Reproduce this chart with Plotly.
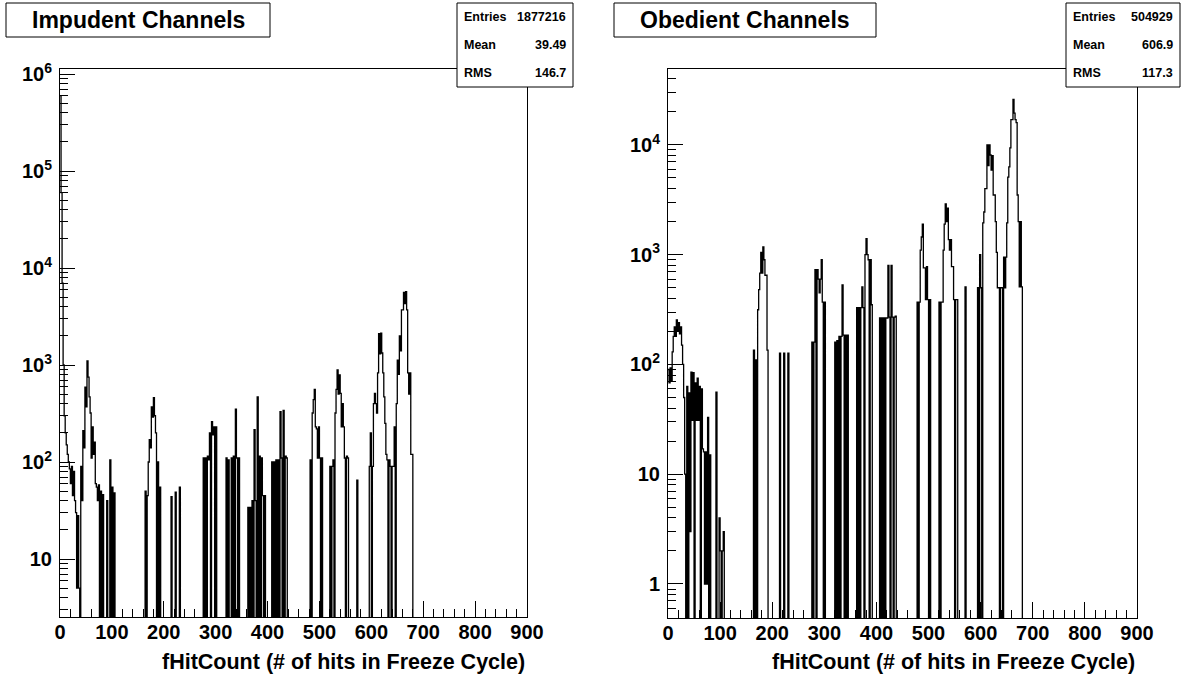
import plotly.graph_objects as go

W, H = 1189, 676

# ---- histogram contents (bin width 2, lower bin edge -> entries; other bins are empty)
imp_bin = [0, 2, 4, 6, 8, 10, 12, 14, 16, 18, 20, 22, 24, 26, 28, 30, 32, 34, 36,
           40, 42, 44, 46, 48, 50, 52, 54, 56, 58, 60, 62, 64, 66, 68, 70, 72, 74, 78, 82, 90, 96, 100, 104,
           164, 168, 170, 172, 174, 176, 178, 180, 182, 184, 188, 192,
           214, 222, 230,
           276, 280, 284, 286, 288, 292, 294, 296, 300,
           320, 324, 330, 334, 338, 340, 344,
           362, 366, 370, 374, 376, 380, 384, 388, 390, 394,
           408, 412, 416, 420, 424, 426, 430, 434, 436,
           482, 486, 488, 490, 492, 494, 496, 498, 500, 504,
           520, 524, 526, 530, 532, 534, 536, 538, 540, 542, 544, 546, 548, 552, 554,
           572,
           596, 598, 602, 604, 606, 608, 610, 612, 614, 616, 618, 620, 622, 624, 626, 628, 630, 634, 636,
           640, 642, 644, 648, 650, 652, 654, 656, 658, 660, 662, 664, 666, 668, 670, 672, 674, 676, 678]
imp_cnt = [600000, 60000, 7000, 1000, 300, 200, 150, 120, 100, 85, 60, 90, 45, 80, 40, 30, 5, 28, 5,
           90, 40, 210, 140, 590, 370, 1100, 750, 470, 320, 110, 230, 120, 160, 60, 55, 40, 58, 50, 46, 40, 105, 55, 48,
           50, 45, 100, 170, 140, 370, 290, 460, 300, 200, 100, 55,
           44, 49, 55,
           110, 110, 115, 105, 200, 260, 190, 230, 230,
           110, 105, 110, 115, 350, 110, 110,
           34, 34, 40, 215, 40, 470, 115, 110, 45, 45,
           100, 100, 105, 105, 330, 110, 340, 115, 110,
           105, 320, 440, 560, 230, 220, 110, 230, 110, 110,
           90, 90, 105, 320, 560, 890, 500, 790, 510, 230, 400, 230, 110, 115, 110,
           65,
           90, 200, 90, 400, 510, 400, 320, 830, 2100, 1300, 2130, 1330, 830, 470, 250, 120, 105, 105, 90,
           90, 90, 230, 400, 1120, 800, 2000, 1400, 3700, 3700, 5600, 4300, 5700, 3700, 830, 500, 830, 120, 120]

obe_bin = [0, 2, 4, 6, 8, 10, 12, 14, 16, 18, 20, 22, 24, 26, 28, 30, 32,
           36, 40, 42, 44, 46, 48, 52, 54, 56, 58, 60, 64, 66, 68, 70, 72, 74, 76, 80, 92, 98, 100, 104, 106,
           164, 168, 172, 174, 176, 178, 180, 182, 184, 186, 188, 190,
           214, 222, 230,
           276, 280, 282, 286, 288, 290, 292, 294, 296, 300,
           320, 324, 328, 332, 334, 336, 340, 344,
           362, 366, 370, 372, 374, 378, 380, 382, 384, 388, 390,
           406, 410, 414, 418, 420, 422, 424, 428, 430, 434, 436,
           478, 482, 484, 486, 488, 490, 492, 494, 496, 498, 502,
           520, 524, 526, 528, 530, 532, 534, 536, 538, 540, 542, 544, 546, 548, 552, 554,
           570,
           594, 598, 600, 604, 606, 608, 610, 612, 614, 616, 618, 620, 622, 624, 626, 628, 630, 632, 634, 638,
           640, 644, 646, 648, 650, 652, 654, 656, 658, 660, 662, 664, 666, 668, 670, 672, 674, 676, 678]
obe_cnt = [90, 68, 93, 70, 130, 180, 220, 180, 255, 200, 240, 190, 220, 150, 100, 50, 10,
           63, 55, 3, 85, 31, 84, 68, 31, 75, 31, 63, 60, 17, 16, 1, 16, 1, 33, 15, 56, 4, 2, 2, 3,
           135, 110, 315, 480, 680, 1050, 680, 1180, 900, 650, 650, 135,
           127, 127, 127,
           160, 160, 730, 730, 600, 450, 600, 900, 370, 370,
           160, 165, 180, 180, 530, 185, 185, 185,
           330, 330, 330, 510, 330, 1000, 1400, 1000, 900, 900, 350,
           265, 265, 265, 265, 265, 800, 270, 800, 270, 270, 275,
           370, 370, 1100, 1450, 1900, 760, 760, 390, 780, 390, 390,
           370, 370, 370, 1100, 1900, 2900, 2000, 2650, 1370, 1100, 1370, 780, 780, 390, 390, 390,
           510,
           500, 1000, 500, 1950, 2450, 4000, 4000, 10000, 6500, 10000, 8100, 5900, 8000, 3500, 3500, 2000, 1050, 500, 500, 500,
           500, 950, 500, 950, 1950, 5100, 6300, 9400, 17000, 17000, 26000, 19500, 17000, 16000, 3500, 2000, 510, 2000, 510]

imp_title = "Impudent Channels"
obe_title = "Obedient Channels"
stat_names = ["Entries", "Mean", "RMS"]
imp_stats = ["1877216", "39.49", "146.7"]
obe_stats = ["504929", "606.9", "117.3"]
x_title = "fHitCount (# of hits in Freeze Cycle)"
x_ticks = [0, 100, 200, 300, 400, 500, 600, 700, 800, 900]

BIN_W = 2
X_MAX = 900
FONT = "Liberation Sans"


def px(p):
    return p / W


def py(p):
    return 1 - p / H


def step_series(bins, counts, floor):
    """Full step outline; empty bins drop below the frame like ROOT draws them."""
    n = X_MAX // BIN_W
    full = [0] * n
    for b, c in zip(bins, counts):
        full[b // BIN_W] = c
    xs = [i * BIN_W for i in range(n)] + [X_MAX]
    ys = [c if c > 0 else floor for c in full] + [floor]
    return xs, ys


def exp_label(k):
    if k == 0:
        return "1"
    if k == 1:
        return "10"
    return f"10<sup>{k}</sup>"


panels = [
    dict(title=imp_title, bins=imp_bin, cnt=imp_cnt, stats=imp_stats,
         frame=(60, 527, 69, 617), yrange=(0.402, 6.052), decades=list(range(1, 7)),
         tbox=(6, 270, 3, 37), sbox=(457, 573, 3, 87)),
    dict(title=obe_title, bins=obe_bin, cnt=obe_cnt, stats=obe_stats,
         frame=(668, 1137, 69, 618), yrange=(-0.31, 4.692), decades=list(range(0, 5)),
         tbox=(614, 876, 3, 37), sbox=(1066, 1180, 3, 87)),
]

fig = go.Figure()
shapes = []
annotations = []
layout_axes = {}

for i, p in enumerate(panels):
    sfx = "" if i == 0 else str(i + 1)
    xa, ya = "x" + sfx, "y" + sfx
    xs, ys = step_series(p["bins"], p["cnt"], 1e-3)
    fig.add_trace(go.Scatter(x=xs, y=ys, mode="lines", line=dict(color="black", width=1.3, shape="hv"),
                             xaxis=xa, yaxis=ya, hoverinfo="skip", showlegend=False))

    x0, x1, y0, y1 = p["frame"]
    tickfont = dict(family=FONT, size=20, color="black", weight="bold")
    layout_axes["xaxis" + sfx] = dict(
        domain=[px(x0), px(x1)], anchor=ya, range=[0, X_MAX], automargin=False,
        tickmode="array", tickvals=x_ticks, ticktext=[str(t) for t in x_ticks],
        ticks="inside", ticklen=16, tickwidth=1, tickcolor="black",
        minor=dict(dtick=20, tick0=0, ticks="inside", ticklen=8, tickwidth=1, tickcolor="black"),
        showline=True, linecolor="black", linewidth=1, mirror=True,
        showgrid=False, zeroline=False, tickfont=tickfont, ticklabelstandoff=-3,
    )
    lo_dec = p["decades"][0]
    minor_vals = [m * 10 ** k for k in range(lo_dec - 1, p["decades"][-1] + 1) for m in range(2, 10)]
    layout_axes["yaxis" + sfx] = dict(
        domain=[py(y1), py(y0)], anchor=xa, type="log", range=list(p["yrange"]), automargin=False,
        tickmode="array", tickvals=[10 ** k for k in p["decades"]],
        ticktext=[exp_label(k) for k in p["decades"]],
        ticks="inside", ticklen=15, tickwidth=1, tickcolor="black",
        minor=dict(tickmode="array", tickvals=minor_vals, ticks="inside", ticklen=8,
                   tickwidth=1, tickcolor="black"),
        showline=True, linecolor="black", linewidth=1, mirror=True,
        showgrid=False, zeroline=False, tickfont=tickfont, ticklabelstandoff=3,
    )

    # title box
    tx0, tx1, ty0, ty1 = p["tbox"]
    shapes.append(dict(type="rect", xref="paper", yref="paper", x0=px(tx0), x1=px(tx1),
                       y0=py(ty1), y1=py(ty0), line=dict(color="black", width=1),
                       fillcolor="white", layer="above"))
    annotations.append(dict(xref="paper", yref="paper", x=px((tx0 + tx1) / 2), y=py((ty0 + ty1) / 2),
                            text=p["title"], showarrow=False, xanchor="center", yanchor="middle",
                            font=dict(family=FONT, size=23, color="black", weight="bold")))

    # statistics box
    sx0, sx1, sy0, sy1 = p["sbox"]
    shapes.append(dict(type="rect", xref="paper", yref="paper", x0=px(sx0), x1=px(sx1),
                       y0=py(sy1), y1=py(sy0), line=dict(color="black", width=1),
                       fillcolor="white", layer="above"))
    row_h = (sy1 - sy0) / 3
    for r, (name, val) in enumerate(zip(stat_names, p["stats"])):
        yc = py(sy0 + row_h * (r + 0.5))
        sfont = dict(family=FONT, size=12.5, color="black", weight="bold")
        annotations.append(dict(xref="paper", yref="paper", x=px(sx0 + 5), y=yc, text=name,
                                showarrow=False, xanchor="left", yanchor="middle", font=sfont))
        annotations.append(dict(xref="paper", yref="paper", x=px(sx1 - 5), y=yc, text=val,
                                showarrow=False, xanchor="right", yanchor="middle", font=sfont))

    # x-axis title, right-aligned to the frame end
    annotations.append(dict(xref="paper", yref="paper", x=px(x1), y=py(662), text=x_title,
                            showarrow=False, xanchor="right", yanchor="middle",
                            font=dict(family=FONT, size=21.5, color="black", weight="bold")))

fig.update_layout(
    width=W, height=H, margin=dict(l=0, r=0, t=0, b=0),
    paper_bgcolor="white", plot_bgcolor="white",
    shapes=shapes, annotations=annotations, showlegend=False,
    **layout_axes,
)

# page body without the default browser margin so the figure fills the window
fig.write_html("out.html", post_script="document.body.style.margin='0px';")
